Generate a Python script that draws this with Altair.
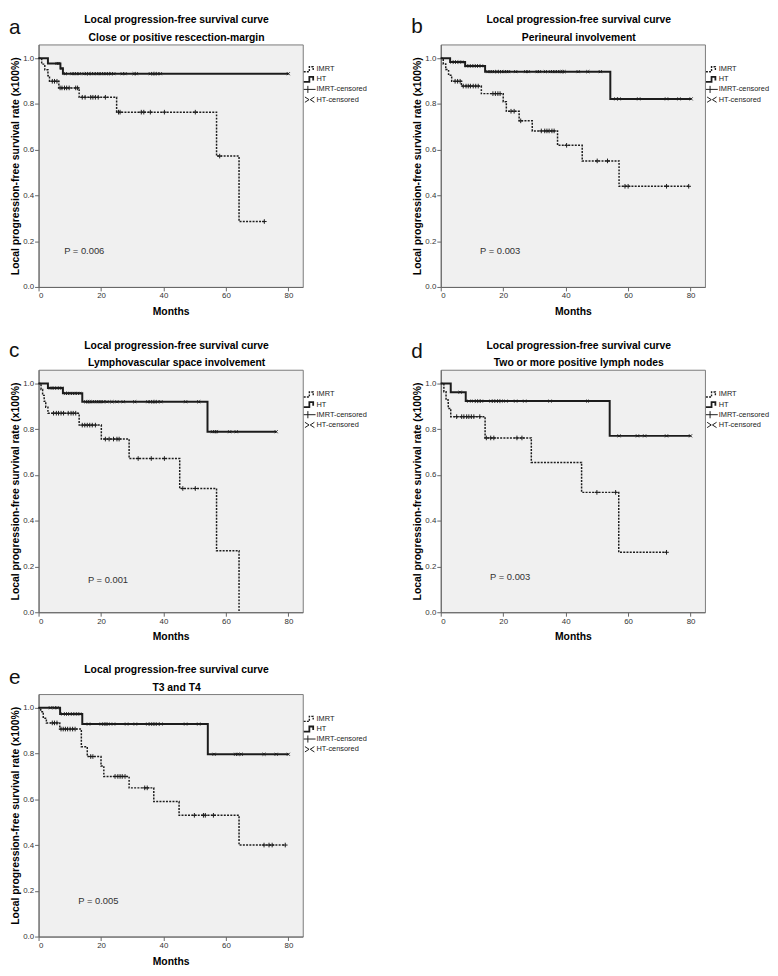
import altair as alt
import pandas as pd

FONT = "Liberation Sans"

PANEL_LABELS = ["a", "b", "c", "d", "e"]
TITLE = "Local progression-free survival curve"
SUBTITLES = [
    "Close or positive rescection-margin",
    "Perineural involvement",
    "Lymphovascular space involvement",
    "Two or more positive lymph nodes",
    "T3 and T4",
]
P_TEXTS = ["P = 0.006", "P = 0.003", "P = 0.001", "P = 0.003", "P = 0.005"]
P_X = [8.2, 12.6, 15.8, 15.8, 12.7]
P_Y = [0.157, 0.159, 0.141, 0.152, 0.154]
LEGEND_LABELS = ["IMRT", "HT", "IMRT-censored", "HT-censored"]
X_TICKS = [0, 20, 40, 60, 80]
Y_TICKS = [0.0, 0.2, 0.4, 0.6, 0.8, 1.0]

# ---- panel a ----
A_IMRT_T = [0, 1.0, 2.0, 3.0, 3.5, 6.5, 13.0, 25.0, 57.0, 64.2, 72.3]
A_IMRT_S = [1.0, 0.974, 0.949, 0.923, 0.899, 0.870, 0.829, 0.764, 0.572, 0.286, 0.286]
A_IMRT_C = [4.4, 5.1, 5.9, 6.9, 7.5, 8.3, 9.0, 9.8, 11.9, 12.5, 14.0, 14.9, 16.7, 17.4,
            18.2, 19.1, 21.4, 25.6, 26.1, 32.9, 33.7, 35.8, 40.3, 50.2, 58.0, 72.3]
A_HT_T = [0, 3.0, 7.0, 7.8, 80.0]
A_HT_S = [1.0, 0.977, 0.955, 0.932, 0.932]
A_HT_C = [5.9, 6.5, 7.5, 8.6, 10.7, 11.4, 12.2, 13.0, 14.6, 15.3, 16.1, 16.9, 17.7, 18.6,
          19.3, 20.1, 20.9, 21.6, 22.4, 23.3, 24.1, 26.8, 27.7, 30.6, 31.3, 35.8, 36.6,
          37.3, 38.1, 39.0, 80.0]

# ---- panel b ----
B_IMRT_T = [0, 0.8, 1.6, 2.5, 3.5, 6.6, 13.0, 20.0, 21.0, 25.1, 29.3, 37.4, 45.3, 57.1, 79.4]
B_IMRT_S = [1.0, 0.975, 0.950, 0.925, 0.899, 0.878, 0.845, 0.810, 0.768, 0.726, 0.682,
            0.619, 0.551, 0.440, 0.440]
B_IMRT_C = [4.6, 5.4, 6.2, 7.2, 8.1, 8.8, 9.5, 10.4, 11.2, 12.0, 16.7, 17.5, 18.3, 19.0,
            22.5, 23.5, 25.6, 32.2, 33.3, 34.0, 34.7, 35.6, 36.3, 40.3, 50.1, 53.4, 59.0,
            60.0, 72.3, 79.4]
B_HT_T = [0, 3.0, 7.8, 14.2, 54.3, 80.2]
B_HT_S = [1.0, 0.983, 0.966, 0.941, 0.822, 0.822]
B_HT_C = [3.6, 4.3, 5.1, 6.0, 6.7, 8.3, 9.0, 9.9, 10.6, 11.4, 12.2, 13.0, 15.1, 15.8, 16.5,
          17.2, 18.0, 18.8, 19.5, 20.3, 21.1, 21.7, 24.0, 27.2, 28.0, 30.9, 31.6, 33.5,
          35.1, 35.8, 36.6, 37.4, 38.2, 38.9, 39.5, 44.0, 47.1, 51.1, 56.1, 57.1, 63.4,
          72.3, 76.3, 80.2]

# ---- panel c ----
C_IMRT_T = [0, 0.8, 1.3, 1.8, 2.3, 3.0, 13.0, 20.1, 29.0, 45.2, 57.0, 64.2]
C_IMRT_S = [1.0, 0.974, 0.948, 0.922, 0.896, 0.870, 0.818, 0.757, 0.672, 0.541, 0.269, 0.0]
C_IMRT_C = [4.8, 5.7, 6.4, 7.2, 8.0, 9.5, 10.4, 11.1, 11.9, 14.0, 14.8, 15.6, 16.4, 17.2,
            18.2, 21.4, 22.6, 24.0, 25.1, 25.8, 31.9, 36.1, 40.3, 46.2, 50.2]
C_HT_T = [0, 3.0, 7.8, 14.0, 54.1, 76.1]
C_HT_S = [1.0, 0.980, 0.957, 0.920, 0.789, 0.789]
C_HT_C = [3.8, 4.4, 5.1, 5.9, 6.7, 7.4, 8.6, 9.3, 10.1, 10.9, 11.6, 12.5, 13.2, 15.1, 15.8,
          16.4, 17.2, 17.9, 18.6, 19.3, 20.0, 20.7, 21.9, 23.5, 25.1, 27.1, 30.8, 35.0,
          35.8, 36.6, 37.3, 38.1, 39.2, 47.1, 51.3, 55.7, 56.4, 57.0, 61.2, 63.3, 76.1]

# ---- panel d ----
D_IMRT_T = [0, 1.0, 1.7, 2.4, 3.2, 14.2, 29.0, 45.1, 57.0, 72.3]
D_IMRT_S = [1.0, 0.964, 0.928, 0.891, 0.855, 0.762, 0.655, 0.524, 0.262, 0.262]
D_IMRT_C = [5.1, 6.7, 7.4, 8.3, 9.0, 9.8, 10.6, 12.5, 14.6, 16.0, 17.0, 24.4, 26.0, 50.0,
            56.0, 72.3]
D_HT_T = [0, 3.2, 8.0, 54.1, 80.0]
D_HT_S = [1.0, 0.962, 0.923, 0.771, 0.771]
D_HT_C = [6.2, 9.0, 10.6, 11.4, 12.3, 13.0, 16.1, 16.9, 17.7, 18.6, 19.3, 20.9, 24.0, 26.9,
          35.0, 47.0, 57.1, 63.0, 65.3, 72.3, 80.0]

# ---- panel e ----
E_IMRT_T = [0, 0.7, 1.5, 2.5, 6.8, 13.7, 15.6, 20.0, 20.9, 29.0, 36.9, 45.0, 64.2, 79.0]
E_IMRT_S = [1.0, 0.983, 0.954, 0.934, 0.907, 0.830, 0.787, 0.746, 0.700, 0.650, 0.590,
            0.530, 0.400, 0.400]
E_IMRT_C = [4.4, 5.1, 5.9, 7.2, 7.9, 8.6, 9.3, 10.1, 10.9, 11.7, 16.7, 17.4, 24.5, 25.4,
            26.1, 26.8, 27.7, 34.0, 34.8, 49.9, 52.8, 53.4, 56.0, 72.2, 73.8, 74.8, 79.0]
E_HT_T = [0, 6.9, 14.0, 54.2, 80.0]
E_HT_S = [1.0, 0.973, 0.929, 0.797, 0.797]
E_HT_C = [3.8, 5.1, 5.9, 7.8, 8.6, 9.3, 10.1, 10.9, 11.7, 12.5, 13.2, 16.0, 20.1, 20.9,
          21.6, 22.2, 24.0, 28.2, 31.0, 35.0, 35.8, 36.6, 37.3, 38.1, 39.2, 47.1, 51.3,
          56.2, 63.1, 63.8, 64.9, 72.2, 76.1, 80.0]

PANELS = [
    (A_IMRT_T, A_IMRT_S, A_IMRT_C, A_HT_T, A_HT_S, A_HT_C),
    (B_IMRT_T, B_IMRT_S, B_IMRT_C, B_HT_T, B_HT_S, B_HT_C),
    (C_IMRT_T, C_IMRT_S, C_IMRT_C, C_HT_T, C_HT_S, C_HT_C),
    (D_IMRT_T, D_IMRT_S, D_IMRT_C, D_HT_T, D_HT_S, D_HT_C),
    (E_IMRT_T, E_IMRT_S, E_IMRT_C, E_HT_T, E_HT_S, E_HT_C),
]

# ---- layout / style ----
W, H = 268, 246
X_MAX, Y_MAX = 84.6, 1.06
LABEL_DY = [-11, -12, -13, -12, -10]
TITLE_DY, SUBTITLE_DY = -24.5, -6.5
LEGEND_DY = [25, 35.3, 45.6, 56]
INK = "#1c1c1c"
PLUS = "M0,-1L0,1M-1,0L1,0"
CROSS = "M-1,-1L1,1M-1,1L1,-1"
STEP = "M-1,0.45L-0.05,0.45L-0.05,-0.4L0.6,-0.4L0.6,0.2"
LEG_PLUS = "M-1,0L1,0M-0.3,-0.6L-0.3,0.6"
LEG_CROSS = "M-0.8,-0.45L-0.1,0L-0.8,0.45M0.8,-0.45L0.1,0L0.8,0.45"


def step_at(T, S, t):
    v = S[0]
    for ti, si in zip(T, S):
        if ti <= t:
            v = si
    return v


def panel(i):
    it, is_, ic, ht, hs, hc = PANELS[i]
    xs = alt.Scale(domain=[0, X_MAX], nice=False, zero=False)
    ys = alt.Scale(domain=[0, Y_MAX], nice=False, zero=False)
    X = alt.X("t:Q", scale=xs, axis=alt.Axis(values=X_TICKS, format="d", title="Months",
                                             titlePadding=7))
    Y = alt.Y("s:Q", scale=ys, axis=alt.Axis(values=Y_TICKS, format=".1f",
                                             title="Local progression-free survival rate (x100%)",
                                             titlePadding=2))
    x = alt.X("t:Q")
    y = alt.Y("s:Q")

    imrt_df = pd.DataFrame({"t": it, "s": is_})
    ht_df = pd.DataFrame({"t": ht, "s": hs})
    imrt_c = pd.DataFrame({"t": ic, "s": [step_at(it, is_, t) for t in ic]})
    ht_c = pd.DataFrame({"t": hc, "s": [step_at(ht, hs, t) for t in hc]})

    def txt(s, **kw):
        return alt.Chart(pd.DataFrame({"txt": [s]})).mark_text(font=FONT, **kw)

    layers = [
        alt.Chart(ht_df).mark_line(interpolate="step-after", color=INK, strokeWidth=2).encode(x=X, y=Y),
        alt.Chart(imrt_df).mark_line(interpolate="step-after", color=INK, strokeWidth=1.5,
                                     strokeDash=[2, 1.3]).encode(x=x, y=y),
        alt.Chart(imrt_c).mark_point(shape=PLUS, size=22, filled=False, color=INK, opacity=1,
                                     strokeWidth=1).encode(x=x, y=y),
        alt.Chart(ht_c).mark_point(shape=CROSS, size=9, filled=False, color=INK, opacity=1,
                                   strokeWidth=1).encode(x=x, y=y),
        alt.Chart(pd.DataFrame({"t": [P_X[i]], "s": [P_Y[i]], "txt": [P_TEXTS[i]]}))
        .mark_text(align="left", baseline="middle", font=FONT, fontSize=9.5, color="#333333")
        .encode(x=x, y=y, text="txt:N"),
        txt(PANEL_LABELS[i], align="left", baseline="alphabetic", fontSize=21, color="#111111")
        .encode(x=alt.value(-30), y=alt.value(LABEL_DY[i]), text="txt:N"),
        txt(TITLE, align="center", baseline="middle", fontSize=10.5, fontWeight="bold",
            color="#000000")
        .encode(x=alt.value(W / 2 + 6), y=alt.value(TITLE_DY), text="txt:N"),
        txt(SUBTITLES[i], align="center", baseline="middle", fontSize=10.5, fontWeight="bold",
            color="#000000")
        .encode(x=alt.value(W / 2 + 6), y=alt.value(SUBTITLE_DY), text="txt:N"),
    ]
    shapes = [STEP, STEP, LEG_PLUS, LEG_CROSS]
    dashes = [[2, 1.2], [], [], []]
    widths = [1.4, 1.8, 1, 1]
    for k, lab in enumerate(LEGEND_LABELS):
        ldf = pd.DataFrame({"txt": [lab]})
        pt = dict(shape=shapes[k], size=144, filled=False, color=INK, opacity=1,
                  strokeWidth=widths[k])
        if dashes[k]:
            pt["strokeDash"] = dashes[k]
        layers.append(alt.Chart(ldf).mark_point(**pt)
                      .encode(x=alt.value(W + 7), y=alt.value(LEGEND_DY[k])))
        layers.append(alt.Chart(ldf).mark_text(align="left", baseline="middle", font=FONT,
                                               fontSize=7.5, color="#222222")
                      .encode(x=alt.value(W + 14), y=alt.value(LEGEND_DY[k]), text="txt:N"))

    return alt.layer(*layers).properties(width=W, height=H)


row1 = alt.hconcat(panel(0), panel(1), spacing=43)
row2 = alt.hconcat(panel(2), panel(3), spacing=43)
chart = alt.vconcat(row1, row2, panel(4), spacing=22).properties(padding=0)

chart = chart.configure_view(fill="#f0f0f0", stroke="#7a7a7a", strokeWidth=1).configure_axis(
    grid=False, domainColor="#666666", tickColor="#666666", tickSize=4,
    labelFont=FONT, labelFontSize=8, labelColor="#333333", labelPadding=1,
    titleFont=FONT, titleFontSize=10.5, titleFontWeight="bold", titleColor="#000000",
)

chart.save("out.html", embed_options={"renderer": "svg", "actions": False})
